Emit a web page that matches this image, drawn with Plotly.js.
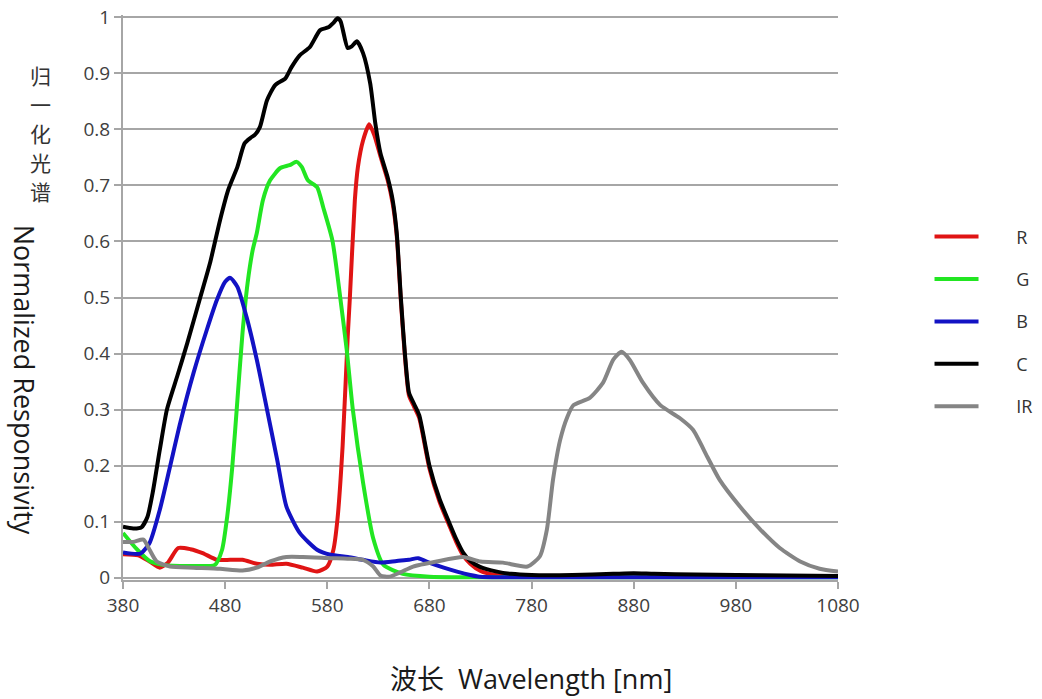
<!DOCTYPE html>
<html>
<head>
<meta charset="utf-8">
<script src="https://cdn.plot.ly/plotly-3.0.1.min.js"></script>
<style>html,body{margin:0;padding:0;background:#fff;}#chart{width:1042px;height:699px;}</style>
</head>
<body>
<div id="chart"></div>
<script>
// Wavelength ticks
const xTicks = [380, 480, 580, 680, 780, 880, 980, 1080];
const yTicks = [0, 0.1, 0.2, 0.3, 0.4, 0.5, 0.6, 0.7, 0.8, 0.9, 1];

// R channel
const rWl  = [380, 395, 406, 416, 424, 434, 446, 458, 472, 485, 497, 511, 524, 540, 556, 570, 580, 586, 590, 595, 600, 602, 607, 610, 615, 621, 626, 632, 639, 644, 648, 652, 656, 660, 665, 670, 680, 690, 699, 706, 713, 720, 730, 745, 760, 800, 900, 1000, 1080];
const rVal = [0.042, 0.040, 0.029, 0.018, 0.027, 0.053, 0.051, 0.044, 0.032, 0.032, 0.032, 0.025, 0.023, 0.025, 0.018, 0.011, 0.020, 0.050, 0.105, 0.235, 0.430, 0.496, 0.674, 0.733, 0.780, 0.809, 0.790, 0.752, 0.710, 0.668, 0.610, 0.495, 0.395, 0.325, 0.305, 0.285, 0.195, 0.135, 0.095, 0.065, 0.040, 0.025, 0.012, 0.005, 0.003, 0.002, 0.002, 0.002, 0.002];

// G channel
const gWl  = [380, 394, 406, 419, 449, 470, 477, 482, 487, 492, 497, 502, 507, 511, 517, 524, 534, 543, 550, 555, 561, 570, 576, 585, 592, 599, 605, 615, 625, 635, 654, 680, 720, 800, 1080];
const gVal = [0.080, 0.050, 0.030, 0.023, 0.021, 0.023, 0.050, 0.109, 0.198, 0.317, 0.437, 0.526, 0.585, 0.615, 0.674, 0.709, 0.731, 0.736, 0.742, 0.733, 0.709, 0.697, 0.661, 0.602, 0.510, 0.407, 0.300, 0.170, 0.070, 0.023, 0.007, 0.002, 0.001, 0.001, 0.001];

// B channel
const bWl  = [380, 397, 406, 416, 426, 436, 449, 462, 472, 480, 485, 492, 501, 511, 521, 531, 540, 553, 570, 583, 600, 615, 632, 648, 660, 669, 681, 694, 707, 720, 729, 760, 850, 1080];
const bVal = [0.045, 0.043, 0.062, 0.121, 0.198, 0.276, 0.365, 0.442, 0.496, 0.528, 0.535, 0.519, 0.465, 0.389, 0.300, 0.210, 0.127, 0.080, 0.050, 0.041, 0.037, 0.032, 0.027, 0.030, 0.032, 0.035, 0.026, 0.018, 0.011, 0.005, 0.002, 0.001, 0.001, 0.001];

// C channel
const cWl  = [380, 390, 398, 404, 409, 416, 423, 433, 443, 455, 465, 475, 483, 492, 499, 505, 509, 514, 521, 529, 539, 545, 553, 563, 573, 581, 586, 590, 593, 600, 604, 609, 615, 622, 627, 632, 639, 644, 648, 652, 656, 660, 665, 670, 680, 690, 699, 706, 713, 720, 729, 746, 760, 780, 820, 860, 880, 900, 940, 980, 1030, 1080];
const cVal = [0.091, 0.088, 0.090, 0.109, 0.151, 0.228, 0.300, 0.359, 0.419, 0.496, 0.560, 0.638, 0.692, 0.733, 0.775, 0.785, 0.790, 0.804, 0.852, 0.879, 0.891, 0.911, 0.932, 0.947, 0.977, 0.982, 0.990, 0.998, 0.993, 0.945, 0.948, 0.957, 0.936, 0.882, 0.811, 0.758, 0.715, 0.674, 0.615, 0.500, 0.400, 0.330, 0.310, 0.290, 0.200, 0.140, 0.100, 0.070, 0.045, 0.030, 0.020, 0.011, 0.007, 0.005, 0.005, 0.007, 0.008, 0.007, 0.006, 0.005, 0.004, 0.003];

// IR channel
const irWl  = [380, 390, 400, 406, 413, 426, 449, 475, 497, 511, 524, 540, 556, 583, 600, 615, 625, 632, 641, 652, 664, 687, 713, 730, 752, 776, 788, 795, 801, 808, 815, 821, 837, 850, 860, 868, 876, 889, 906, 925, 938, 952, 964, 984, 1004, 1023, 1043, 1062, 1080];
const irVal = [0.064, 0.064, 0.068, 0.050, 0.029, 0.020, 0.018, 0.016, 0.013, 0.018, 0.029, 0.037, 0.037, 0.035, 0.034, 0.032, 0.020, 0.004, 0.002, 0.010, 0.020, 0.029, 0.037, 0.029, 0.027, 0.020, 0.038, 0.086, 0.175, 0.246, 0.287, 0.308, 0.321, 0.348, 0.389, 0.403, 0.389, 0.348, 0.308, 0.285, 0.264, 0.216, 0.175, 0.127, 0.086, 0.053, 0.029, 0.016, 0.011];

// Axis titles
const yTitleZh = ['归', '一', '化', '光', '谱'];
const yTitleEn = 'Normalized Responsivity';
const xTitle = '波长\u00a0\u00a0Wavelength [nm]';

const seriesNames  = ['R', 'G', 'B', 'C', 'IR'];
const seriesColors = ['#e01414', '#22e622', '#1212c4', '#000000', '#858585'];
const seriesX = [rWl, gWl, bWl, cWl, irWl];
const seriesY = [rVal, gVal, bVal, cVal, irVal];

const FONT = 'Open Sans, Noto Sans, Noto Sans CJK SC, sans-serif';
const GRID = '#a6a6a6';
const PAD = '\u00a0\u00a0\u00a0\u00a0\u00a0\u00a0\u00a0';

const traces = seriesNames.map((n, i) => ({
  type: 'scatter', mode: 'lines', name: PAD + n,
  x: seriesX[i], y: seriesY[i],
  legendgroup: n,
  line: {color: seriesColors[i], width: 4, shape: 'spline', smoothing: 0.6},
  hoverinfo: 'skip'
}));

// plot area in px: top 15, bottom 580 (height 565)
const zhPx = [75, 104, 133, 162, 191];
const zhAnn = yTitleZh.map((c, i) => ({
  xref: 'paper', yref: 'paper', x: -0.116, y: (580 - zhPx[i]) / 565,
  xanchor: 'center', yanchor: 'middle', text: c, showarrow: false,
  font: {family: 'Noto Sans CJK SC, sans-serif', size: 21, color: '#333333'}
}));

const layout = {
  width: 1042, height: 699,
  margin: {l: 123, r: 204, t: 15, b: 119, autoexpand: false},
  paper_bgcolor: '#ffffff', plot_bgcolor: '#ffffff',
  font: {family: FONT, color: '#404040', size: 19},
  showlegend: true,
  legend: {
    x: 1.128, y: 0.640, xanchor: 'left', yanchor: 'top',
    traceorder: 'grouped', tracegroupgap: 16, itemwidth: 44,
    font: {family: FONT, size: 18, color: '#333333'},
    bgcolor: 'rgba(0,0,0,0)'
  },
  xaxis: {
    range: [380, 1080], tickmode: 'array', tickvals: xTicks, ticktext: xTicks.map(String),
    showgrid: false, zeroline: false,
    showline: true, linecolor: GRID, linewidth: 2,
    ticks: 'outside', ticklen: 7, tickwidth: 2, tickcolor: GRID,
    tickfont: {family: FONT, size: 19, color: '#404040'}
  },
  yaxis: {
    range: [-0.004, 1.004], tickmode: 'array', tickvals: yTicks, ticktext: yTicks.map(String),
    showgrid: true, gridcolor: GRID, gridwidth: 2, zeroline: false,
    showline: true, linecolor: GRID, linewidth: 2,
    ticks: 'outside', ticklen: 7, tickwidth: 2, tickcolor: GRID,
    tickfont: {family: FONT, size: 19, color: '#404040'}
  },
  annotations: [
    {xref: 'paper', yref: 'paper', x: -0.138, y: 0.354, xanchor: 'center', yanchor: 'middle',
     text: yTitleEn, textangle: 90, showarrow: false,
     font: {family: FONT, size: 27, color: '#1a1a1a'}},
    {xref: 'paper', yref: 'paper', x: 0.571, y: -0.175, xanchor: 'center', yanchor: 'middle',
     text: xTitle, showarrow: false,
     font: {family: FONT, size: 27, color: '#1a1a1a'}}
  ].concat(zhAnn)
};

Plotly.newPlot('chart', traces, layout, {staticPlot: true, displayModeBar: false});
</script>
</body>
</html>
